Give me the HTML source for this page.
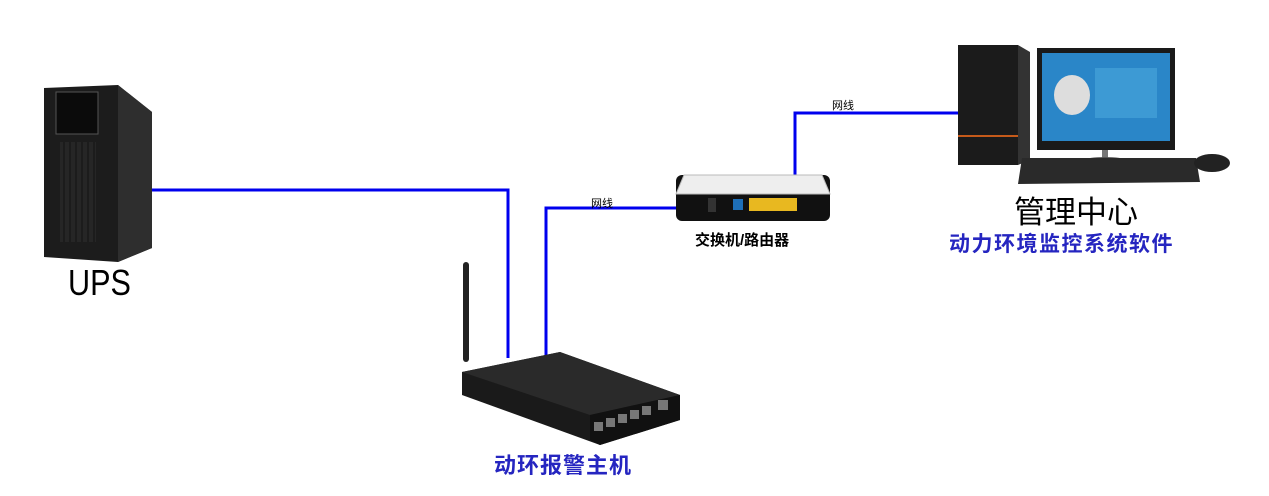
<!DOCTYPE html>
<html><head><meta charset="utf-8"><style>
body{margin:0;width:1269px;height:496px;background:#fff;overflow:hidden;position:relative;font-family:"Liberation Sans","Noto Sans CJK SC",sans-serif}
.t{position:absolute;white-space:nowrap}
</style></head><body>
<svg width="1269" height="496" style="position:absolute;left:0;top:0">
<g stroke="#0000ee" stroke-width="3" fill="none">
<polyline points="152,190 508,190 508,358"/>
<polyline points="546,356 546,208 676,208"/>
<polyline points="795,176 795,113 958,113"/>
</g>
<polygon points="44,88 118,85 152,112 152,248 118,262 44,257" fill="#1c1c1c"/>
<polygon points="118,85 152,112 152,248 118,262" fill="#2e2e2e"/>
<rect x="56" y="92" width="42" height="42" fill="#0b0b0b" stroke="#555"/>
<rect x="60" y="142" width="36" height="100" fill="#262626"/>
<g stroke="#111" stroke-width="1"><line x1="64" y1="142" x2="64" y2="242"/><line x1="70" y1="142" x2="70" y2="242"/><line x1="76" y1="142" x2="76" y2="242"/><line x1="82" y1="142" x2="82" y2="242"/><line x1="88" y1="142" x2="88" y2="242"/><line x1="94" y1="142" x2="94" y2="242"/></g>
<rect x="463" y="262" width="6" height="100" rx="3" fill="#222"/>
<polygon points="462,372 560,352 680,395 680,420 600,445 462,395" fill="#1a1a1a"/>
<polygon points="462,372 560,352 680,395 590,415" fill="#2a2a2a"/>
<polygon points="590,415 680,395 680,420 600,445 590,440" fill="#111"/>
<g fill="#777"><rect x="594" y="422" width="9" height="9"/><rect x="606" y="418" width="9" height="9"/><rect x="618" y="414" width="9" height="9"/><rect x="630" y="410" width="9" height="9"/><rect x="642" y="406" width="9" height="9"/><rect x="658" y="400" width="10" height="10"/></g>
<rect x="676" y="175" width="154" height="46" rx="6" fill="#111"/>
<polygon points="684,175 822,175 830,194 676,194" fill="#eee" stroke="#bbb"/>
<rect x="708" y="198" width="8" height="14" fill="#333"/>
<rect x="733" y="199" width="10" height="11" fill="#1e6fb8"/>
<rect x="749" y="198" width="48" height="13" fill="#e8b820"/>
<rect x="958" y="45" width="60" height="120" fill="#1b1b1b"/>
<polygon points="1018,45 1030,52 1030,160 1018,165" fill="#333"/>
<rect x="958" y="135" width="60" height="2" fill="#c55a1a"/>
<rect x="1037" y="48" width="138" height="102" fill="#1a1a1a"/>
<rect x="1042" y="53" width="128" height="88" fill="#2a86c8"/>
<rect x="1095" y="68" width="62" height="50" fill="#3d9ad4"/>
<ellipse cx="1072" cy="95" rx="18" ry="20" fill="#ddd"/>
<rect x="1102" y="150" width="6" height="10" fill="#777"/>
<ellipse cx="1105" cy="160" rx="20" ry="3" fill="#555"/>
<polygon points="1022,158 1196,158 1200,182 1018,184" fill="#2a2a2a"/>
<ellipse cx="1212" cy="163" rx="18" ry="9" fill="#222"/>
</svg>
<div class="t" style="left:68px;top:262px;font-size:36px;color:#000;transform:scaleX(0.85);transform-origin:left top">UPS</div>
<div class="t" style="left:591px;top:195px;font-size:11px;color:#000">网线</div>
<div class="t" style="left:832px;top:97px;font-size:11px;color:#000">网线</div>
<div class="t" style="left:695px;top:229px;font-size:15px;font-weight:bold;color:#000">交换机/路由器</div>
<div class="t" style="left:1014px;top:187px;font-size:31px;color:#000">管理中心</div>
<div class="t" style="left:949px;top:228px;font-size:21px;font-weight:bold;color:#2525c0;letter-spacing:1.5px">动力环境监控系统软件</div>
<div class="t" style="left:494px;top:448px;font-size:22px;font-weight:bold;color:#2525c0;letter-spacing:1px">动环报警主机</div>
</body></html>
